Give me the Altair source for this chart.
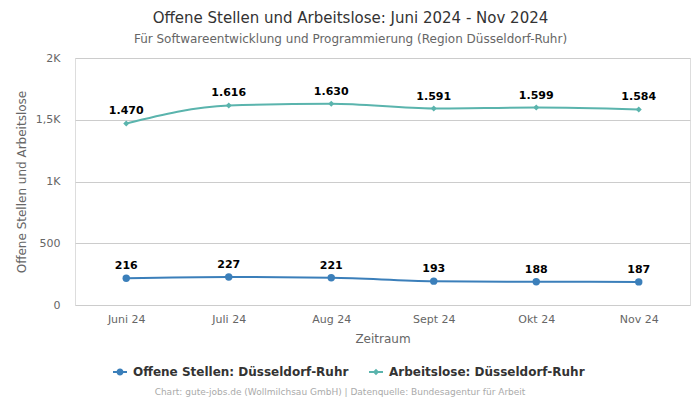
import altair as alt
import pandas as pd

months = ["Juni 24", "Juli 24", "Aug 24", "Sept 24", "Okt 24", "Nov 24"]
offene = [216, 227, 221, 193, 188, 187]
arbeitslose = [1470, 1616, 1630, 1591, 1599, 1584]
s_off = "Offene Stellen: Düsseldorf-Ruhr"
s_arb = "Arbeitslose: Düsseldorf-Ruhr"
series_names = [s_off, s_arb]
colors = ["#3b7fba", "#5ab4ad"]

rows = []
for m, v in zip(months, offene):
    rows.append({"Zeitraum": m, "Serie": s_off, "Wert": v})
for m, v in zip(months, arbeitslose):
    rows.append({"Zeitraum": m, "Serie": s_arb, "Wert": v})
df = pd.DataFrame(rows)

FONT = "DejaVu Sans"

x_enc = alt.X("Zeitraum:N", sort=months,
              scale=alt.Scale(type="point", padding=0.5),
              axis=alt.Axis(title="Zeitraum", labelAngle=0, labelPadding=8,
                            titlePadding=9, ticks=False, domain=False,
                            grid=False, labelColor="#666", titleColor="#666",
                            labelFontSize=11, titleFontSize=12, labelFont=FONT,
                            titleFont=FONT, titleFontWeight="normal"))
y_enc = alt.Y("Wert:Q", scale=alt.Scale(domain=[0, 2000]),
              axis=alt.Axis(title="Offene Stellen und Arbeitslose",
                            values=[0, 500, 1000, 1500, 2000],
                            labelExpr="datum.value >= 1000 ? replace(format(datum.value/1000, '.1~f'), '.', ',') + 'K' : format(datum.value, 'd')",
                            ticks=False, domain=False, gridColor="#cccccc",
                            labelColor="#666", titleColor="#666",
                            labelFontSize=11, titleFontSize=12, labelPadding=15,
                            titlePadding=7, labelFont=FONT, titleFont=FONT,
                            titleFontWeight="normal"))

legend = alt.Legend(title=None, orient="none", legendX=38, legendY=307,
                    direction="horizontal", labelFontSize=12,
                    labelFontWeight="bold", labelColor="#333", labelFont=FONT,
                    symbolStrokeWidth=0, columnPadding=20, symbolSize=196,
                    labelOffset=6, labelLimit=400)
color_enc = alt.Color("Serie:N", scale=alt.Scale(domain=series_names, range=colors),
                      legend=legend)

base = alt.Chart(df)

lines = base.mark_line(interpolate="monotone", strokeWidth=2).encode(
    x=x_enc, y=y_enc, color=color_enc, detail="Serie:N")

pts_off = base.transform_filter(alt.datum.Serie == s_off).mark_point(
    shape="circle", filled=True, size=55, opacity=1).encode(x=x_enc, y=y_enc, color=color_enc)
pts_arb = base.transform_filter(alt.datum.Serie == s_arb).mark_point(
    shape="diamond", filled=True, size=36, opacity=1).encode(x=x_enc, y=y_enc, color=color_enc)

leg_layer = base.transform_filter("false").mark_point(filled=True, opacity=1).encode(
    x=x_enc, y=y_enc, color=color_enc,
    shape=alt.Shape("Serie:N", scale=alt.Scale(
        domain=series_names,
        range=["M-1,-0.14H1V0.14H-1Z M0.5,0A0.5,0.5,0,1,1,-0.5,0A0.5,0.5,0,1,1,0.5,0Z",
               "M-1,-0.14H1V0.14H-1Z M0,-0.45L0.45,0L0,0.45L-0.45,0Z"]),
        legend=legend))

labels = base.transform_calculate(
    lbl="replace(format(datum.Wert, ','), ',', '.')"
).mark_text(dy=-12, fontWeight="bold", fontSize=11, color="black", font=FONT).encode(
    x=x_enc, y=y_enc, text="lbl:N")

credit = alt.Chart(pd.DataFrame({"t": ["Chart: gute-jobs.de (Wollmilchsau GmbH) | Datenquelle: Bundesagentur für Arbeit"]})).mark_text(
    fontSize=9, color="#aaaaaa", font=FONT).encode(
    text="t:N", x=alt.value(265), y=alt.value(334))

chart = alt.layer(lines, pts_off, pts_arb, leg_layer, labels, credit).properties(
    width=615, height=247,
    autosize=alt.AutoSizeParams(type="none"),
    padding={"left": 67, "top": 50, "right": 2, "bottom": 92},
    title=alt.TitleParams(
        text="Offene Stellen und Arbeitslose: Juni 2024 - Nov 2024",
        subtitle="Für Softwareentwicklung und Programmierung (Region Düsseldorf-Ruhr)",
        anchor="middle", dx=-32, fontSize=15, fontWeight="normal", color="#333",
        subtitleFontSize=12, subtitleColor="#666", font=FONT, subtitleFont=FONT,
        offset=7, subtitlePadding=8)
).configure_view(stroke=None).configure(background="white")

chart.save("out.html", embed_options={"renderer": "svg", "actions": False})
